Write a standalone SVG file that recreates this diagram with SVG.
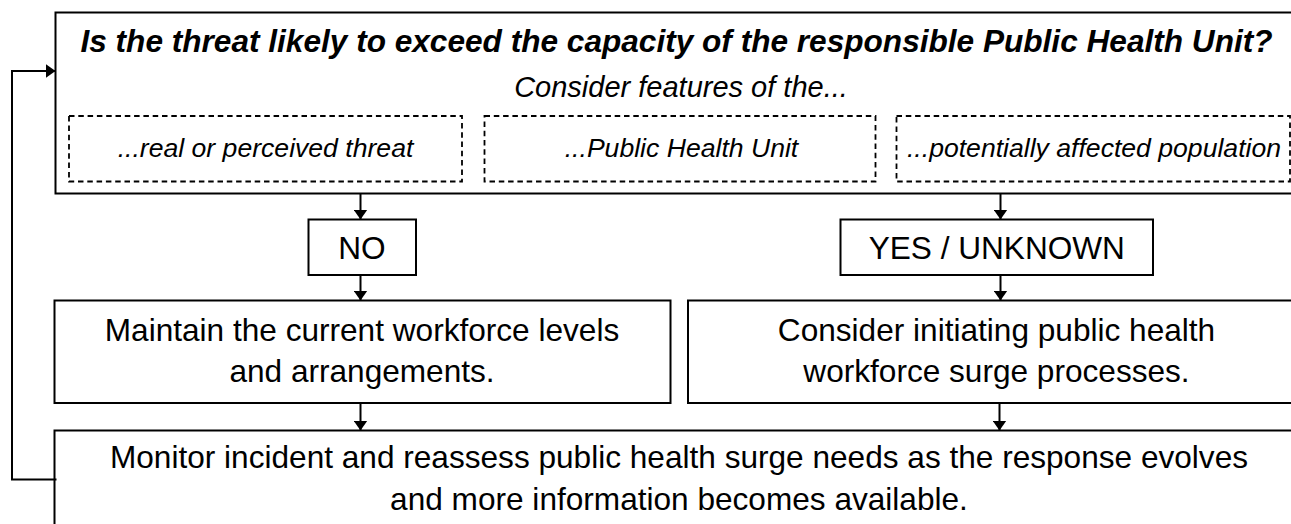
<svg xmlns="http://www.w3.org/2000/svg" width="1291" height="524" viewBox="0 0 1291 524">
  <style>
    .box { fill: #ffffff; stroke: #000000; stroke-width: 2; }
    .dash { fill: none; stroke: #000000; stroke-width: 1.8; stroke-dasharray: 5.5 3.8; }
    .link { fill: none; stroke: #000000; stroke-width: 2; }
    .t { font-family: "Liberation Sans", Arial, sans-serif; fill: #000000; text-anchor: middle; }
    .title { font-size: 31.6px; font-weight: bold; font-style: italic; }
    .sub { font-size: 29px; font-style: italic; }
    .feat { font-size: 26.6px; font-style: italic; }
    .body { font-size: 31.6px; }
  </style>
  <defs>
    <marker id="arrow" viewBox="0 0 10 14" refX="10" refY="7" markerWidth="10" markerHeight="14" markerUnits="userSpaceOnUse" orient="auto">
      <path d="M0,0 L10,7 L0,14 Z" fill="#000000"/>
    </marker>
  </defs>

  <!-- assessment question with its three feature prompts -->
  <g id="question">
    <rect class="box" x="55.5" y="12.5" width="1250" height="181"/>
    <text class="t title" x="676.5" y="52">Is the threat likely to exceed the capacity of the responsible Public Health Unit?</text>
    <text class="t sub" x="681" y="97">Consider features of the...</text>
  </g>
  <g id="feature-threat">
    <rect class="dash" x="69" y="116" width="393" height="65.5"/>
    <text class="t feat" x="265.5" y="157">...real or perceived threat</text>
  </g>
  <g id="feature-unit">
    <rect class="dash" x="484.5" y="116" width="391" height="65.5"/>
    <text class="t feat" x="681.5" y="157">...Public Health Unit</text>
  </g>
  <g id="feature-population">
    <rect class="dash" x="896.5" y="116" width="393.5" height="65.5"/>
    <text class="t feat" x="1094" y="157">...potentially affected population</text>
  </g>

  <!-- answers -->
  <g id="answer-no">
    <rect class="box" x="308.5" y="219.5" width="107.5" height="55.5"/>
    <text class="t body" x="362" y="259">NO</text>
  </g>
  <g id="answer-yes">
    <rect class="box" x="840.5" y="219.5" width="312.5" height="55.5"/>
    <text class="t body" x="996.8" y="259">YES / UNKNOWN</text>
  </g>

  <!-- actions -->
  <g id="maintain">
    <rect class="box" x="54.5" y="300.5" width="616" height="102.5"/>
    <text class="t body" x="362" y="340.5">Maintain the current workforce levels</text>
    <text class="t body" x="362" y="381.5">and arrangements.</text>
  </g>
  <g id="surge">
    <rect class="box" x="688" y="300.5" width="617" height="102.5"/>
    <text class="t body" x="996.5" y="340.5">Consider initiating public health</text>
    <text class="t body" x="996.5" y="381.5">workforce surge processes.</text>
  </g>
  <g id="monitor">
    <rect class="box" x="54.5" y="430.5" width="1250" height="120"/>
    <text class="t body" x="679" y="468.3">Monitor incident and reassess public health surge needs as the response evolves</text>
    <text class="t body" x="679" y="509.5">and more information becomes available.</text>
  </g>

  <!-- connectors -->
  <g id="connectors">
    <path class="link" d="M360.5,193.5 V219.5" marker-end="url(#arrow)"/>
    <path class="link" d="M1000.5,193.5 V219.5" marker-end="url(#arrow)"/>
    <path class="link" d="M360.5,275 V300.5" marker-end="url(#arrow)"/>
    <path class="link" d="M1000.5,275 V300.5" marker-end="url(#arrow)"/>
    <path class="link" d="M360.5,403 V430.5" marker-end="url(#arrow)"/>
    <path class="link" d="M999.5,403 V430.5" marker-end="url(#arrow)"/>
    <path class="link" d="M56.5,479.5 H12 V71 H55.5" marker-end="url(#arrow)"/>
  </g>
</svg>
